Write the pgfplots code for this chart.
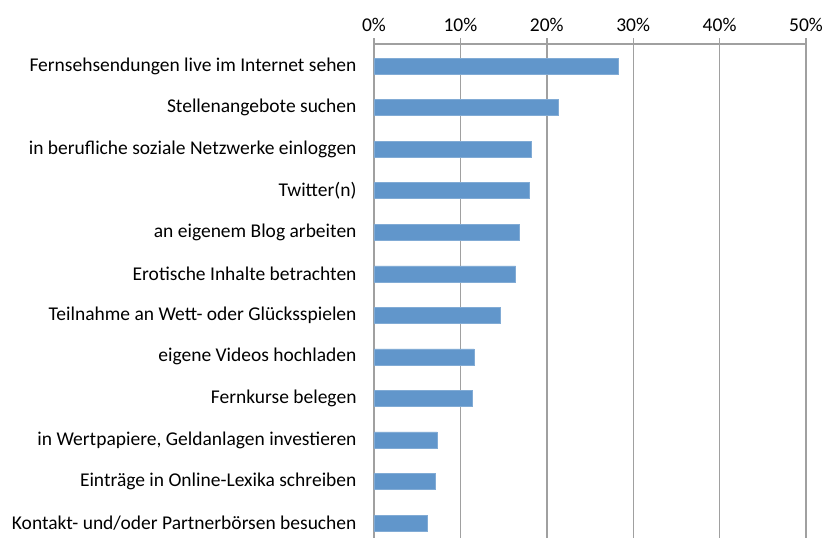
\documentclass[border=0pt]{standalone}
\usepackage{fontspec}
\setmainfont{Carlito}
\usepackage{pgfplots}
\pgfplotsset{compat=1.18}
\definecolor{barblue}{RGB}{97,150,203}
\definecolor{gridgray}{RGB}{160,160,160}
\begin{document}
\begin{tikzpicture}
\begin{axis}[
  scale only axis, width=432pt, height=494pt,
  xmin=0, xmax=50, ymin=-0.53, ymax=11.36, y dir=reverse,
  axis x line=top, axis y line=left,
  axis line style={gridgray, line width=1.4pt, -},
  xtick={0,10,20,30,40,50},
  xticklabels={0\%,10\%,20\%,30\%,40\%,50\%},
  xtick pos=upper, tick align=outside, major tick length=6pt,
  x tick style={gridgray, line width=1.4pt},
  ytick={0,1,2,3,4,5,6,7,8,9,10,11},
  yticklabels={Fernsehsendungen live im Internet sehen\ ,Stellenangebote suchen,in berufliche soziale Netzwerke einloggen,Twitter(n),an eigenem Blog arbeiten,Erotische Inhalte betrachten,Teilnahme an Wett- oder Glücksspielen,eigene Videos hochladen,Fernkurse belegen,{in Wertpapiere, Geldanlagen investieren},Einträge in Online-Lexika schreiben,Kontakt- und/oder Partnerbörsen besuchen},
  y tick style={draw=none},
  yticklabel style={font=\fontsize{19.5}{22}\selectfont, xshift=-8pt},
  xticklabel style={font=\fontsize{19.5}{22}\selectfont, yshift=3pt},
  xmajorgrids, grid style={gridgray, line width=1.4pt},
  clip=false,
]
\addplot[xbar, bar width=16pt, fill=barblue, draw=barblue!80!white, line width=0.4pt] coordinates {
  (28.3,0) (21.3,1) (18.2,2) (17.95,3) (16.8,4) (16.4,5)
  (14.6,6) (11.6,7) (11.4,8) (7.3,9) (7.1,10) (6.2,11)
};
\end{axis}
\pgfresetboundingbox
\path[use as bounding box] ([xshift=-374pt]current axis.south west) rectangle ([xshift=17pt,yshift=44pt]current axis.north east);
\end{tikzpicture}
\end{document}
